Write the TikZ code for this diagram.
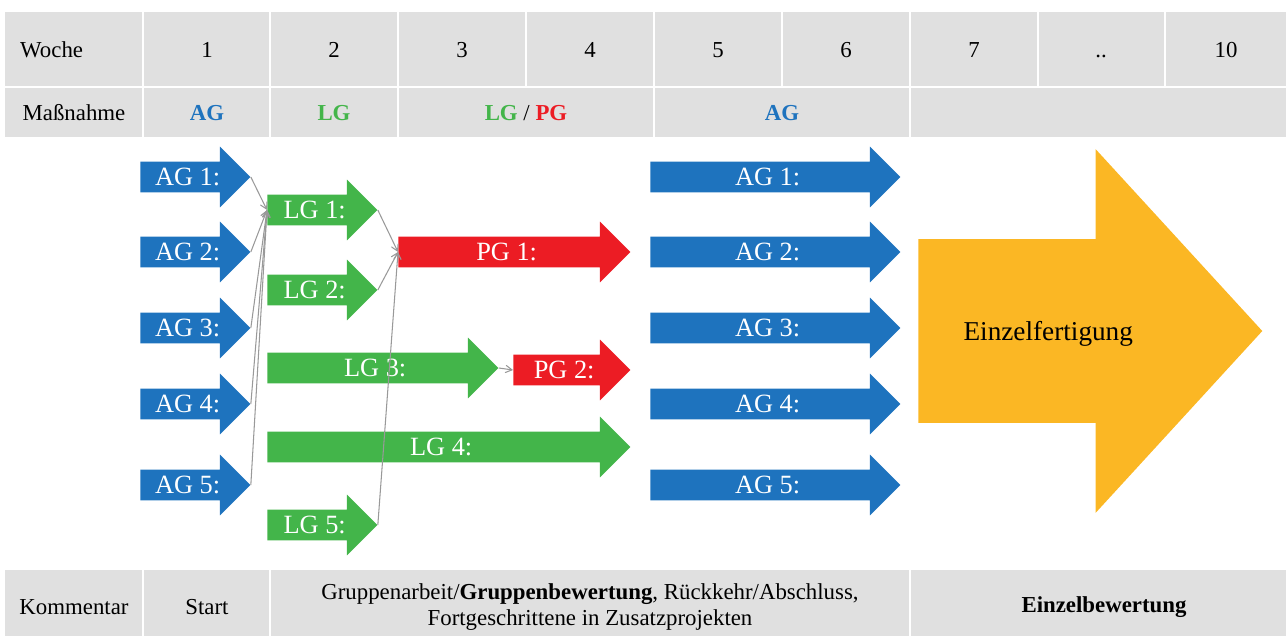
\documentclass[tikz,border=0pt]{standalone}
\usepackage{fontspec}
\setmainfont{Liberation Serif}
\usetikzlibrary{shapes,arrows}
\definecolor{agblau}{RGB}{30,115,190}
\definecolor{lggruen}{RGB}{67,181,74}
\definecolor{pgrot}{RGB}{236,28,36}
\definecolor{einzelgelb}{RGB}{251,183,36}
\definecolor{tabgrau}{RGB}{224,224,224}

\begin{document}
\begin{tikzpicture}[x=0.02cm,y=-0.02cm,
    pfeil/.style={single arrow, single arrow head extend=0.3cm, inner sep=0pt,
        text height=0.475cm, text depth=0.125cm, anchor=tail, text=white,
        font=\fontsize{15}{18}\selectfont},
    ag/.style={pfeil, fill=agblau},
    lg/.style={pfeil, fill=lggruen},
    pg/.style={pfeil, fill=pgrot},
    verb/.style={->, >=angle 60, draw=black!40, line width=0.6pt},
    tab/.style={font=\fontsize{13}{15}\selectfont},
    tabfett/.style={font=\fontsize{13}{15}\selectfont\bfseries}]
\useasboundingbox (0,0) rectangle (1286,636);
\fill[tabgrau] (5,12) rectangle (1286,137);
\fill[tabgrau] (5,570) rectangle (1286,636);
\draw[white, line width=1pt] (5,87) -- (1286,87);
\foreach \x in {143,270,398,526,654,782,910,1038,1165}
    \draw[white, line width=1pt] (\x,12) -- (\x,87);
\foreach \x in {143,270,398,654,910}
    \draw[white, line width=1pt] (\x,87) -- (\x,137);
\foreach \x in {143,270,910}
    \draw[white, line width=1pt] (\x,570) -- (\x,636);

\node[tab, anchor=base west] (woche) at (14,57) {Woche};
\foreach \w/\x [count=\i] in {1/207,2/334,3/462,4/590,5/718,6/846,7/974,../1101,10/1226}
    \node[tab, anchor=base] (w\i) at (\x,57) {\w};
\node[tab] (massnahme) at (74,113) {Maßnahme};
\node[tabfett, text=agblau] (m1) at (207,113) {AG};
\node[tabfett, text=lggruen] (m2) at (334,113) {LG};
\node[tab] (m3) at (526,113) {\textbf{\color{lggruen}LG} / \textbf{\color{pgrot}PG}};
\node[tabfett, text=agblau] (m5) at (782,113) {AG};

\foreach \i/\y in {1/177,2/252,3/328,4/404,5/485} {
    \node[ag, minimum height=2.2cm] (ag\i) at (140,\y) {AG \i:};
    \node[ag, minimum height=5cm] (agr\i) at (650,\y) {AG \i:};
}
\node[lg, minimum height=2.2cm] (lg1) at (267,210) {LG 1:};
\node[lg, minimum height=2.2cm] (lg2) at (267,290) {LG 2:};
\node[lg, minimum height=4.62cm] (lg3) at (267,368) {LG 3:};
\node[lg, minimum height=7.26cm] (lg4) at (267,447) {LG 4:};
\node[lg, minimum height=2.2cm] (lg5) at (267,525) {LG 5:};
\node[pg, minimum height=4.64cm] (pg1) at (398,252) {PG 1:};
\node[pg, minimum height=2.34cm] (pg2) at (513,370) {PG 2:};
\node[single arrow, single arrow head extend=1.8cm, single arrow tip angle=95,
    fill=einzelgelb, inner sep=0pt, text height=2.01cm, text depth=1.65cm,
    minimum height=6.88cm, anchor=tail, font=\fontsize{15.5}{18}\selectfont]
    (einzel) at (918,331) {Einzelfertigung};

\foreach \i in {1,...,5}
    \draw[verb] (ag\i.tip) -- (lg1.tail);
\foreach \i in {1,2,5}
    \draw[verb] (lg\i.tip) -- (pg1.tail);
\draw[verb] (lg3.tip) -- (pg2.tail);

\node[tab] (kommentar) at (74,607) {Kommentar};
\node[tab] (start) at (207,607) {Start};
\node[tab, align=center] (gruppe) at (590,607)
    {Gruppenarbeit/\textbf{Gruppenbewertung}, Rückkehr/Abschluss,\\Fortgeschrittene in Zusatzprojekten};
\node[tabfett] (einzelbew) at (1104,607) {Einzelbewertung};
\end{tikzpicture}
\end{document}
